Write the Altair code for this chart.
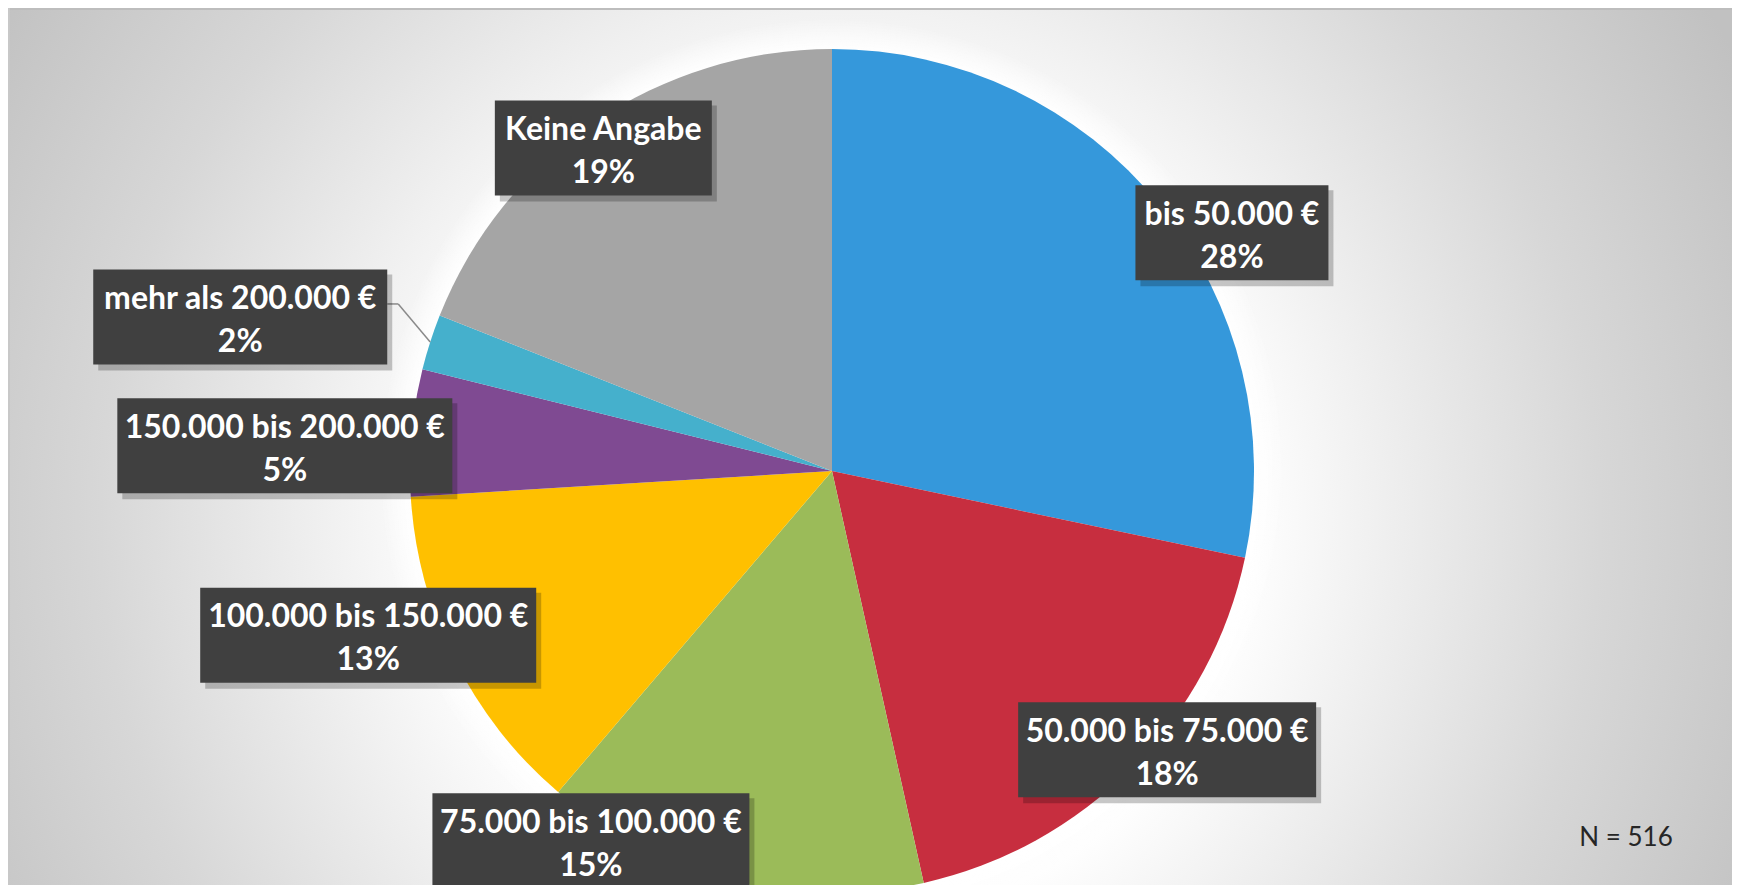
import altair as alt
import pandas as pd

# ---- data ----
categories = ["bis 50.000 €", "50.000 bis 75.000 €", "75.000 bis 100.000 €",
              "100.000 bis 150.000 €", "150.000 bis 200.000 €",
              "mehr als 200.000 €", "Keine Angabe"]
counts = [146, 94, 76, 66, 25, 11, 98]
pct_labels = ["28%", "18%", "15%", "13%", "5%", "2%", "19%"]
colors = ["#3598DB", "#C72E3F", "#9BBB59", "#FFC000", "#7F4A92", "#45B0CC", "#A5A5A5"]
n_label = "N = 516"

# ---- layout (label placement, as in the original manual layout) ----
label_shift = [8.3, -4.9, 19.15, 7.0, -2.6, -3.2, -1.1]      # degrees from slice middle
label_dist = [1.103, 1.033, 1.046, 1.166, 1.298, 1.449, 0.938]  # fraction of radius
box_w = [193, 298, 317, 336, 335, 294, 217]
BOX_H = 95
CX, CY, R = 824, 463, 422
W, H = 1724, 877
FONT = "Lato"

df = pd.DataFrame({"idx": list(range(len(categories))), "cat": categories, "n": counts,
                   "pct": pct_labels, "shift": label_shift, "dist": label_dist, "bw": box_w})

base = (
    alt.Chart(df)
    .transform_window(cum="sum(n)", sort=[alt.SortField("idx")], frame=[None, 0])
    .transform_joinaggregate(total="sum(n)")
    .transform_calculate(amid="(datum.cum - datum.n/2)/datum.total*2*PI")
    .transform_calculate(lmid="datum.amid + datum.shift*PI/180")
    .transform_calculate(
        lx=f"{CX} + datum.dist*{R}*sin(datum.lmid)",
        ly=f"{CY} - datum.dist*{R}*cos(datum.lmid)",
        ex=f"{CX} + {R}*sin(datum.amid)",
        ey=f"{CY} - {R}*cos(datum.amid)",
    )
    .transform_calculate(
        bx0="datum.lx - datum.bw/2", bx1="datum.lx + datum.bw/2",
        by0=f"datum.ly - {BOX_H}/2", by1=f"datum.ly + {BOX_H}/2",
    )
    .transform_calculate(
        sx0="datum.bx0 + 5", sx1="datum.bx1 + 5", sy0="datum.by0 + 5", sy1="datum.by1 + 6",
        kx="datum.bx1 + 11", ky="datum.ly - 13",
    )
)

def px(f):
    return alt.X(f"{f}:Q", scale=None, axis=None)

def py(f):
    return alt.Y(f"{f}:Q", scale=None, axis=None)

one = alt.Data(values=[{"t": n_label}])

bg_grad = alt.RadialGradient(
    gradient="radial", x1=0.5, y1=0.5, r1=0, x2=0.5, y2=0.5, r2=0.5,
    stops=[alt.GradientStop(color="#ffffff", offset=0),
           alt.GradientStop(color="#fefefe", offset=0.40),
           alt.GradientStop(color="#d7d7d7", offset=0.75),
           alt.GradientStop(color="#c1c1c1", offset=1)])
bg = alt.Chart(one).mark_rect(fill=bg_grad).encode(
    x=alt.value(842 - 1000), x2=alt.value(842 + 1000),
    y=alt.value(512 - 1000), y2=alt.value(512 + 1000))

border_top = alt.Chart(one).mark_rule(color="#bdbdbd", strokeWidth=2).encode(
    x=alt.value(0), x2=alt.value(W), y=alt.value(1))
border_left = alt.Chart(one).mark_rule(color="#c8c8c8", strokeWidth=2).encode(
    x=alt.value(1), y=alt.value(0), y2=alt.value(H))

G = 30
glow_grad = alt.RadialGradient(
    gradient="radial", x1=0.5, y1=0.5, r1=0.5 * R / (R + G), x2=0.5, y2=0.5, r2=0.5,
    stops=[alt.GradientStop(color="rgba(255,255,255,0.95)", offset=0),
           alt.GradientStop(color="rgba(255,255,255,0)", offset=1)])
glow = alt.Chart(one).mark_arc(radius=R + G, theta=0, theta2=6.2832, fill=glow_grad).encode(
    x=alt.value(CX), y=alt.value(CY))

pie = alt.Chart(df).mark_arc(radius=R).encode(
    theta=alt.Theta("n:Q", stack=True),
    color=alt.Color("cat:N", scale=alt.Scale(domain=categories, range=colors), legend=None),
    order=alt.Order("idx:Q"),
    x=alt.value(CX), y=alt.value(CY),
)

lead = base.transform_filter("datum.idx == 5")
leader1 = lead.mark_rule(color="#8a8a8a", strokeWidth=1.5).encode(
    x=px("bx1"), x2="kx:Q", y=py("ky"), y2="ky:Q")
leader2 = lead.mark_rule(color="#8a8a8a", strokeWidth=1.5).encode(
    x=px("kx"), x2="ex:Q", y=py("ky"), y2="ey:Q")

shadow = base.mark_rect(color="#000000", opacity=0.22).encode(
    x=px("sx0"), x2="sx1:Q", y=py("sy0"), y2="sy1:Q")
boxes = base.mark_rect(color="#404040").encode(
    x=px("bx0"), x2="bx1:Q", y=py("by0"), y2="by1:Q")

t1 = base.mark_text(font=FONT, fontWeight="bold", fontSize=32, color="white",
                    align="center", baseline="middle", dy=-18).encode(
    x=px("lx"), y=py("ly"), text="cat:N")
t2 = base.mark_text(font=FONT, fontWeight="bold", fontSize=32, color="white",
                    align="center", baseline="middle", dy=25).encode(
    x=px("lx"), y=py("ly"), text="pct:N")

ntext = alt.Chart(one).mark_text(font=FONT, fontSize=26, color="#262626",
                                 align="center", baseline="middle").encode(
    x=alt.value(1618), y=alt.value(830), text="t:N")

chart = alt.layer(bg, border_top, border_left, glow, pie, leader1, leader2,
                  shadow, boxes, t1, t2, ntext).properties(
    width=W, height=H, padding=0,
    autosize=alt.AutoSizeParams(type="none"),
).configure_view(strokeWidth=0)

chart.save("out.html", embed_options={"renderer": "svg", "actions": False})
